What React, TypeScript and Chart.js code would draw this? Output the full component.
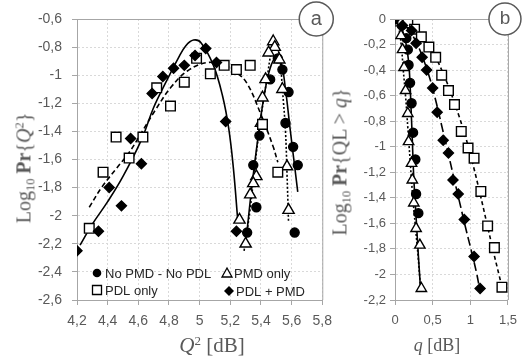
import React, { useEffect, useRef } from "react";
import { Chart, registerables } from "chart.js";
Chart.register(...registerables);

// ---------- Panel a : Log10 Pr{Q^2} vs Q^2 [dB] ----------
const aCircleX = [5.31, 5.35, 5.37, 5.39, 5.46, 5.51, 5.54, 5.58, 5.56, 5.61, 5.64, 5.62];
const aCircleY = [-2.12, -1.64, -1.94, -1.43, -1.03, -0.88, -0.96, -1.12, -1.34, -1.51, -1.64, -2.12];
const aTriX = [5.48, 5.49, 5.45, 5.52, 5.43, 5.54, 5.41, 5.40, 5.57, 5.37, 5.35, 5.33, 5.58, 5.26, 5.30];
const aTriY = [-0.76, -0.80, -0.84, -0.89, -1.03, -1.10, -1.16, -1.34, -1.65, -1.72, -1.77, -1.85, -1.96, -2.03, -2.20];
const aSqX = [4.28, 4.37, 4.455, 4.54, 4.63, 4.72, 4.81, 4.90, 4.98, 5.07, 5.16, 5.24, 5.33, 5.41, 5.51];
const aSqY = [-2.09, -1.69, -1.44, -1.59, -1.44, -1.09, -1.22, -1.05, -0.88, -0.99, -0.93, -0.96, -0.93, -1.35, -1.69];
const aDiaX = [4.2, 4.34, 4.41, 4.49, 4.55, 4.62, 4.69, 4.76, 4.83, 4.90, 4.97, 5.04, 5.11, 5.17, 5.24];
const aDiaY = [-2.25, -2.11, -1.80, -1.93, -1.45, -1.63, -1.13, -1.01, -0.95, -0.93, -0.86, -0.81, -0.91, -1.33, -2.11];

const aFitCircleX = [5.31, 5.34, 5.38, 5.42, 5.46, 5.50, 5.53, 5.56, 5.59, 5.62, 5.64];
const aFitCircleY = [-2.10, -1.80, -1.45, -1.15, -0.95, -0.87, -0.90, -1.10, -1.38, -1.65, -1.83];
const aFitTriX = [5.29, 5.33, 5.36, 5.40, 5.44, 5.47, 5.49, 5.52, 5.54, 5.56, 5.57, 5.58];
const aFitTriY = [-2.25, -1.95, -1.65, -1.30, -1.02, -0.82, -0.77, -0.86, -1.10, -1.40, -1.70, -2.05];
const aFitSqX = [4.28, 4.36, 4.46, 4.54, 4.62, 4.71, 4.81, 4.92, 5.05, 5.16, 5.24, 5.31, 5.40, 5.48, 5.51];
const aFitSqY = [-1.94, -1.80, -1.66, -1.55, -1.41, -1.25, -1.09, -0.97, -0.91, -0.93, -0.98, -1.06, -1.28, -1.51, -1.62];
const aFitDiaX = [4.22, 4.30, 4.40, 4.50, 4.62, 4.70, 4.78, 4.86, 4.91, 4.96, 5.01, 5.09, 5.15, 5.19, 5.22, 5.25];
const aFitDiaY = [-2.21, -2.06, -1.90, -1.72, -1.46, -1.23, -1.05, -0.88, -0.79, -0.75, -0.77, -0.93, -1.15, -1.38, -1.66, -2.05];

// ---------- Panel b : Log10 Pr{QL > q} vs q [dB] ----------
const bCircleX = [0, 0.05, 0.09, 0.15, 0.17, 0.18, 0.20, 0.22, 0.24, 0.27, 0.28, 0.31];
const bCircleY = [0, -0.01, -0.05, -0.15, -0.24, -0.36, -0.50, -0.66, -0.89, -1.10, -1.37, -1.52];
const bTriX = [0.03, 0.08, 0.10, 0.12, 0.14, 0.17, 0.18, 0.22, 0.23, 0.25, 0.28, 0.33, 0.35];
const bTriY = [-0.03, -0.13, -0.24, -0.38, -0.56, -0.74, -0.96, -1.13, -1.26, -1.44, -1.64, -1.77, -2.11];
const bSqX = [0, 0.10, 0.17, 0.26, 0.35, 0.45, 0.54, 0.62, 0.71, 0.79, 0.88, 0.97, 1.05, 1.14, 1.23, 1.32, 1.42];
const bSqY = [0, -0.01, -0.03, -0.08, -0.14, -0.22, -0.30, -0.44, -0.56, -0.67, -0.88, -1.01, -1.09, -1.35, -1.62, -1.79, -2.10];
const bDiaX = [0, 0.10, 0.22, 0.28, 0.36, 0.42, 0.50, 0.56, 0.64, 0.71, 0.77, 0.84, 0.92, 1.05, 1.13];
const bDiaY = [0, -0.05, -0.09, -0.19, -0.30, -0.40, -0.54, -0.73, -0.95, -1.05, -1.26, -1.37, -1.57, -1.86, -2.11];

const bFitCircleX = [0, 0.07, 0.13, 0.17, 0.19, 0.21, 0.23, 0.25, 0.28, 0.31, 0.34];
const bFitCircleY = [0, -0.05, -0.15, -0.28, -0.40, -0.65, -0.95, -1.25, -1.55, -1.85, -2.12];
const bFitTriX = [0.02, 0.06, 0.09, 0.11, 0.14, 0.17, 0.20, 0.23, 0.27, 0.31, 0.34];
const bFitTriY = [0, -0.10, -0.25, -0.40, -0.60, -0.85, -1.10, -1.35, -1.62, -1.88, -2.12];
const bFitSqX = [0, 0.15, 0.30, 0.42, 0.54, 0.65, 0.75, 0.85, 0.95, 1.04, 1.13, 1.22, 1.31, 1.38, 1.42];
const bFitSqY = [0, -0.02, -0.09, -0.18, -0.30, -0.44, -0.59, -0.76, -0.95, -1.15, -1.37, -1.60, -1.83, -2.00, -2.10];
const bFitDiaX = [0, 0.15, 0.28, 0.38, 0.47, 0.55, 0.63, 0.71, 0.78, 0.86, 0.94, 1.02, 1.08, 1.12];
const bFitDiaY = [0, -0.06, -0.18, -0.32, -0.48, -0.66, -0.86, -1.06, -1.24, -1.44, -1.64, -1.83, -1.98, -2.10];

const legendLabels = ["No PMD - No PDL", "PMD only", "PDL only", "PDL + PMD"];

const GRID = "#d9d9d9";
const AXIS = "#a6a6a6";
const TEXT = "#595959";
const SANS = '"Liberation Sans", Arial, sans-serif';
const SERIF = '"Liberation Serif", "Times New Roman", serif';

const fmt = (v: any) => String(Math.round(Number(v) * 10) / 10).replace(".", ",");
const pts = (xs: number[], ys: number[]) => xs.map((x, i) => ({ x, y: ys[i] }));

const marker = (data: any[], style: string, radius: number, fill: string, order: number) => ({
  data,
  showLine: false,
  pointStyle: style,
  pointRadius: radius,
  pointHoverRadius: radius,
  pointBackgroundColor: fill,
  pointBorderColor: "#000",
  pointBorderWidth: 1.4,
  order,
});
const curve = (data: any[], dash: number[], order: number) => ({
  data,
  showLine: true,
  pointRadius: 0,
  borderColor: "#000",
  borderWidth: 1.6,
  borderDash: dash,
  tension: 0.4,
  fill: false,
  order,
});

function drawShape(ctx: CanvasRenderingContext2D, kind: string, x: number, y: number) {
  ctx.save();
  ctx.lineWidth = 1.3;
  ctx.strokeStyle = "#000";
  ctx.fillStyle = "#000";
  ctx.beginPath();
  if (kind === "circle") {
    ctx.arc(x, y, 4.3, 0, Math.PI * 2);
    ctx.fill();
  } else if (kind === "triangle") {
    ctx.moveTo(x, y - 5);
    ctx.lineTo(x + 5, y + 4);
    ctx.lineTo(x - 5, y + 4);
    ctx.closePath();
    ctx.fillStyle = "#fff";
    ctx.fill();
    ctx.stroke();
  } else if (kind === "square") {
    ctx.rect(x - 4.5, y - 4.5, 9, 9);
    ctx.fillStyle = "#fff";
    ctx.fill();
    ctx.stroke();
  } else {
    ctx.moveTo(x, y - 5);
    ctx.lineTo(x + 5, y);
    ctx.lineTo(x, y + 5);
    ctx.lineTo(x - 5, y);
    ctx.closePath();
    ctx.fill();
  }
  ctx.restore();
}

const decor = (label: string, dx: number, r: number, fontPx: number, withLegend: boolean) => ({
  id: "decor" + label,
  afterDraw(chart: any) {
    const { ctx, chartArea: a } = chart;
    ctx.save();
    ctx.strokeStyle = AXIS;
    ctx.lineWidth = 1;
    ctx.beginPath();
    ctx.moveTo(a.left, a.top + 0.5);
    ctx.lineTo(a.right + 0.5, a.top + 0.5);
    ctx.lineTo(a.right + 0.5, a.bottom);
    ctx.stroke();

    if (withLegend) {
      const rows = [
        ["circle", 97, 273, 105, legendLabels[0]],
        ["triangle", 227, 273, 234, legendLabels[1]],
        ["square", 97, 290, 105, legendLabels[2]],
        ["diamond", 229, 291, 236, legendLabels[3]],
      ] as any[];
      ctx.font = "13px " + SANS;
      ctx.textAlign = "left";
      ctx.textBaseline = "middle";
      for (const [k, mx, my, tx, t] of rows) {
        drawShape(ctx, k, mx, my);
        ctx.fillStyle = "#262626";
        ctx.fillText(t, tx, my + 1);
      }
    }

    const cx = a.right - dx;
    const cy = a.top;
    ctx.beginPath();
    ctx.arc(cx, cy, r, 0, Math.PI * 2);
    ctx.fillStyle = "#fff";
    ctx.fill();
    ctx.strokeStyle = TEXT;
    ctx.lineWidth = 1.5;
    ctx.stroke();
    ctx.fillStyle = TEXT;
    ctx.font = fontPx + "px " + SANS;
    ctx.textAlign = "center";
    ctx.textBaseline = "middle";
    ctx.fillText(label, cx, cy);
    ctx.restore();
  },
});

function options(
  xr: [number, number, number],
  yr: [number, number, number],
  yWidth: number,
  yPad: number,
  padRight: number,
  tickPx: number
) {
  const grid = {
    color: GRID,
    lineWidth: 1,
    tickColor: AXIS,
    tickLength: 5,
    tickBorderDash: [],
  };
  return {
    responsive: false,
    animation: false,
    events: [],
    layout: { padding: { top: 19, right: padRight, left: 0, bottom: 0 } },
    plugins: { legend: { display: false }, tooltip: { enabled: false } },
    scales: {
      x: {
        type: "linear",
        min: xr[0],
        max: xr[1],
        ticks: {
          stepSize: xr[2],
          callback: fmt,
          color: TEXT,
          font: { family: SANS, size: tickPx },
          padding: 8,
          maxRotation: 0,
          autoSkip: false,
        },
        grid,
        border: { color: AXIS, width: 1, dash: [2, 2] },
        afterFit: (s: any) => {
          s.height = 58;
        },
      },
      y: {
        type: "linear",
        min: yr[0],
        max: yr[1],
        ticks: {
          stepSize: yr[2],
          callback: fmt,
          color: TEXT,
          font: { family: SANS, size: tickPx },
          padding: yPad,
          autoSkip: false,
        },
        grid,
        border: { color: AXIS, width: 1, dash: [2, 2] },
        afterFit: (s: any) => {
          s.width = yWidth;
        },
      },
    },
  };
}

function PanelA() {
  const ref = useRef<HTMLCanvasElement>(null);
  useEffect(() => {
    const chart = new Chart(ref.current as HTMLCanvasElement, {
      type: "scatter",
      data: {
        datasets: [
          marker(pts(aDiaX, aDiaY), "rectRot", 5, "#000", 1),
          marker(pts(aSqX, aSqY), "rect", 6.8, "#fff", 2),
          marker(pts(aTriX, aTriY), "triangle", 6.5, "#fff", 3),
          marker(pts(aCircleX, aCircleY), "circle", 4.5, "#000", 4),
          curve(pts(aFitCircleX, aFitCircleY), [], 10),
          curve(pts(aFitTriX, aFitTriY), [2, 2], 11),
          curve(pts(aFitSqX, aFitSqY), [5, 3], 12),
          curve(pts(aFitDiaX, aFitDiaY), [], 13),
        ] as any,
      },
      options: options([4.2, 5.8, 0.2], [-2.6, -0.6, 0.2], 77, 10, 12, 14) as any,
      plugins: [decor("a", 6, 17, 20, true)],
    });
    return () => chart.destroy();
  }, []);
  return (
    <canvas
      ref={ref}
      width={340}
      height={358}
      style={{ position: "absolute", left: 0, top: 0, width: 340, height: 358 }}
    />
  );
}

function PanelB() {
  const ref = useRef<HTMLCanvasElement>(null);
  useEffect(() => {
    const chart = new Chart(ref.current as HTMLCanvasElement, {
      type: "scatter",
      data: {
        datasets: [
          marker(pts(bDiaX, bDiaY), "rectRot", 5, "#000", 1),
          marker(pts(bSqX, bSqY), "rect", 6.8, "#fff", 2),
          marker(pts(bTriX, bTriY), "triangle", 6, "#fff", 3),
          marker(pts(bCircleX, bCircleY), "circle", 4.5, "#000", 4),
          curve(pts(bFitCircleX, bFitCircleY), [], 10),
          curve(pts(bFitTriX, bFitTriY), [2, 2], 11),
          curve(pts(bFitSqX, bFitSqY), [4, 3], 12),
          curve(pts(bFitDiaX, bFitDiaY), [9, 4], 13),
        ] as any,
      },
      options: options([0, 1.5, 0.5], [-2.2, 0, 0.2], 55, 4, 13, 13) as any,
      plugins: [decor("b", 3, 16, 19, false)],
    });
    return () => chart.destroy();
  }, []);
  return (
    <canvas
      ref={ref}
      width={185}
      height={358}
      style={{ position: "absolute", left: 340, top: 0, width: 185, height: 358 }}
    />
  );
}

const sub: React.CSSProperties = { fontSize: "0.62em", verticalAlign: "-0.3em" };
const sup: React.CSSProperties = { fontSize: "0.62em", verticalAlign: "0.55em" };

function Title(props: { x: number; y: number; rotate?: boolean; size: number; children: any }) {
  return (
    <div
      style={{
        position: "absolute",
        left: props.x,
        top: props.y,
        transform: "translate(-50%, -50%)" + (props.rotate ? " rotate(-90deg)" : ""),
        whiteSpace: "nowrap",
        fontFamily: SERIF,
        fontSize: props.size,
        lineHeight: 1,
        color: TEXT,
      }}
    >
      {props.children}
    </div>
  );
}

export default function App() {
  return (
    <div style={{ position: "absolute", left: 0, top: 0, width: 525, height: 358, background: "#fff", overflow: "hidden" }}>
      <PanelA />
      <PanelB />
      <Title x={25} y={168} rotate size={20}>
        Log<span style={sub}>10</span> <b>Pr</b>
        {"{"}
        <i>Q</i>
        <span style={sup}>2</span>
        {"}"}
      </Title>
      <Title x={341} y={162} rotate size={20}>
        Log<span style={sub}>10</span> <b>Pr</b>
        {"{QL > "}
        <i>q</i>
        {"}"}
      </Title>
      <Title x={212} y={345} size={21}>
        <i>Q</i>
        <span style={sup}>2</span> [dB]
      </Title>
      <Title x={437} y={345} size={18}>
        <i>q</i> [dB]
      </Title>
    </div>
  );
}
